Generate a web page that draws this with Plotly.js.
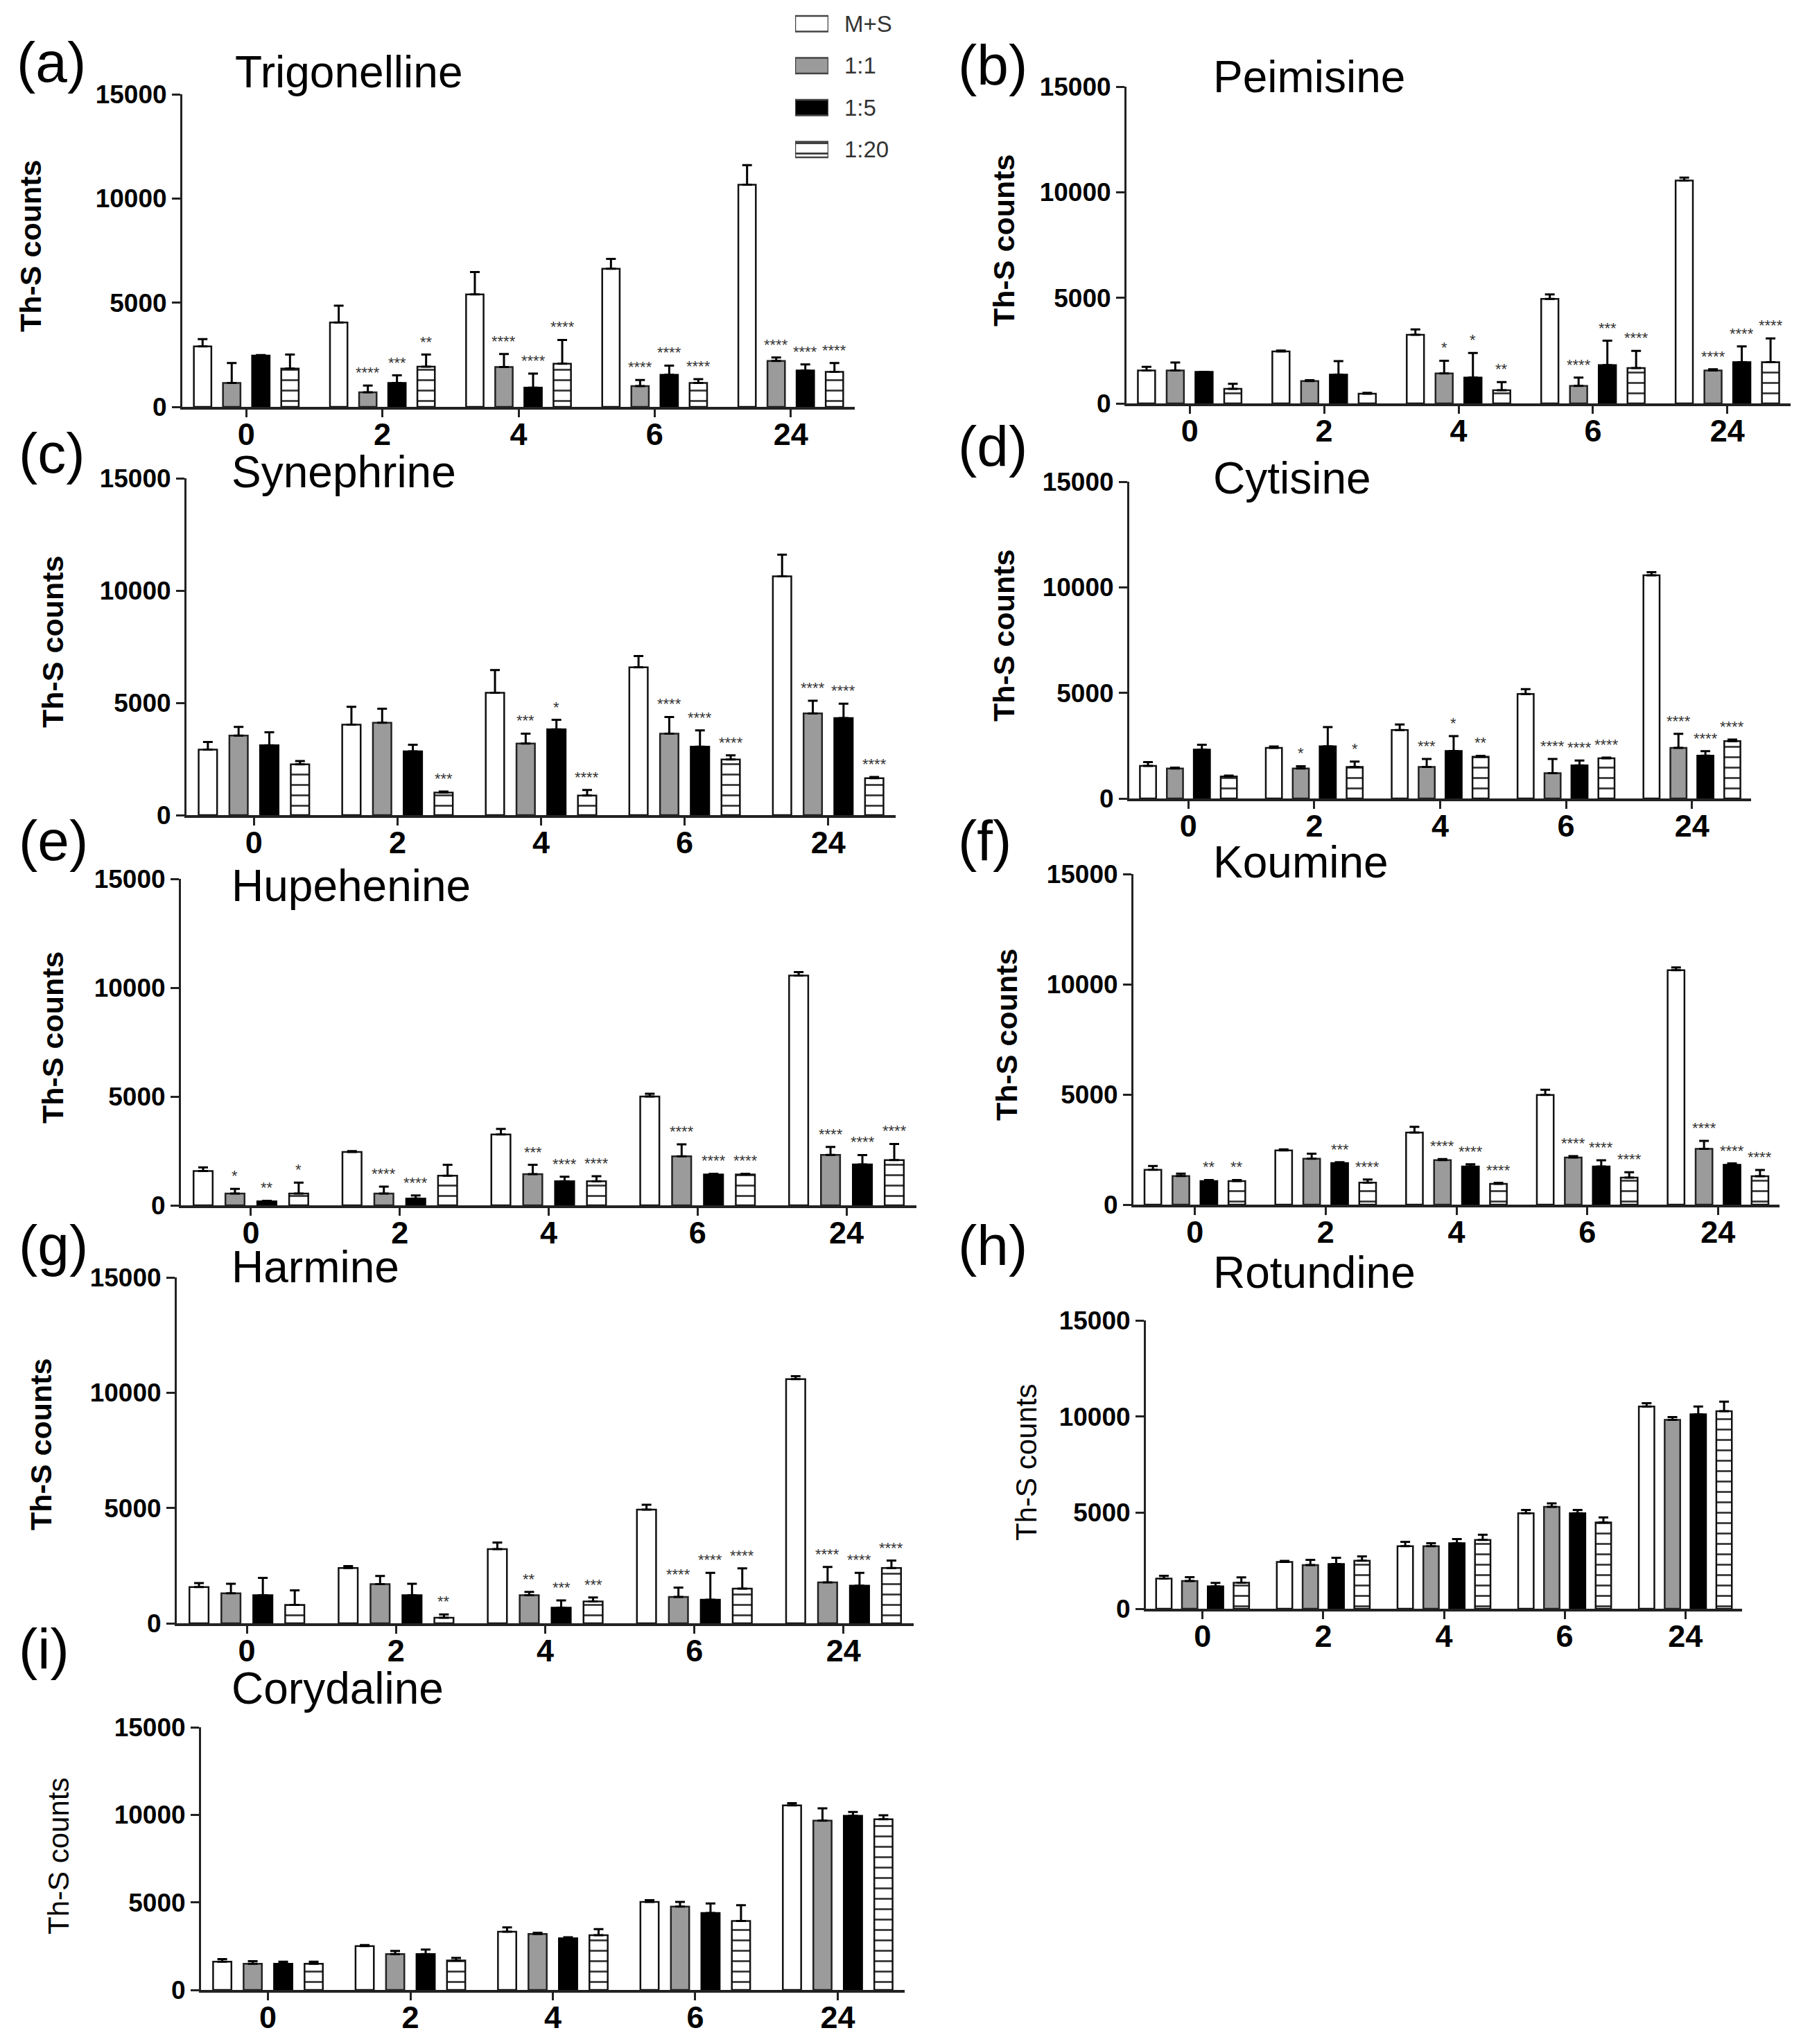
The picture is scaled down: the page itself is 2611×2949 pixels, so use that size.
<!DOCTYPE html>
<html lang="en">
<head>
    <meta charset="UTF-8">
    <title>Th-S counts</title>
    <script src="https://cdn.plot.ly/plotly-3.0.1.min.js"></script>
    <style>
        body { margin: 0; background: #fff; }
    </style>
</head>
<body>
<div id="plot"></div>
<script>

    const hours = ["0", "2", "4", "6", "24"]
    const series = ["M+S", "1:1", "1:5", "1:20"]

    // rows: M+S, 1:1, 1:5, 1:20
    const trigonellineMean = [[2900, 4050, 5400, 6630, 10660], [1150, 700, 1910, 1000, 2200], [2460, 1150, 920, 1540, 1750], [1840, 1930, 2070, 1150, 1680]]
    const trigonellineErr = [[350, 810, 1070, 470, 940], [950, 320, 630, 290, 170], [30, 360, 680, 440, 290], [670, 580, 1140, 180, 420]]
    const trigonellineStars = [["", "****", "****", "****", "****"], ["", "***", "****", "****", "****"], ["", "**", "****", "****", "****"]]

    const peimisineMean = [[1560, 2460, 3250, 4950, 10550], [1560, 1060, 1420, 830, 1560], [1490, 1360, 1220, 1810, 1950], [690, 460, 620, 1670, 1950]]
    const peimisineErr = [[170, 40, 250, 210, 140], [380, 40, 600, 390, 60], [0, 640, 1170, 1160, 750], [240, 40, 390, 820, 1130]]
    const peimisineStars = [["", "", "*", "****", "****"], ["", "", "*", "***", "****"], ["", "", "**", "****", "****"]]

    const synephrineMean = [[2920, 4030, 5450, 6580, 10630], [3540, 4110, 3190, 3630, 4530], [3110, 2840, 3820, 3050, 4320], [2260, 1000, 870, 2480, 1640]]
    const synephrineErr = [[340, 790, 1010, 500, 970], [390, 630, 440, 740, 560], [580, 290, 420, 720, 640], [150, 50, 250, 180, 60]]
    const synephrineStars = [["", "", "***", "****", "****"], ["", "", "*", "****", "****"], ["", "***", "****", "****", "****"]]

    const cytisineMean = [[1540, 2400, 3240, 4950, 10570], [1420, 1420, 1490, 1200, 2400], [2310, 2470, 2250, 1570, 2030], [1040, 1490, 1980, 1900, 2720]]
    const cytisineErr = [[180, 60, 260, 230, 150], [40, 110, 380, 670, 660], [230, 910, 700, 230, 210], [40, 260, 40, 40, 70]]
    const cytisineStars = [["", "*", "***", "****", "****"], ["", "", "*", "****", "****"], ["", "*", "**", "****", "****"]]

    const hupehenineMean = [[1580, 2450, 3260, 5000, 10560], [540, 540, 1430, 2250, 2320], [180, 310, 1110, 1420, 1880], [540, 1360, 1110, 1420, 2080]]
    const hupehenineErr = [[160, 40, 250, 130, 160], [220, 320, 430, 550, 360], [30, 140, 200, 30, 430], [500, 500, 230, 30, 740]]
    const hupehenineStars = [["*", "****", "***", "****", "****"], ["**", "****", "****", "****", "****"], ["*", "", "****", "****", "****"]]

    const koumineMean = [[1580, 2460, 3270, 4980, 10640], [1300, 2080, 2020, 2140, 2530], [1070, 1890, 1730, 1730, 1810], [1070, 1000, 940, 1230, 1290]]
    const koumineErr = [[170, 50, 260, 230, 120], [110, 230, 50, 60, 360], [50, 40, 100, 280, 60], [50, 140, 50, 240, 280]]
    const koumineStars = [["", "", "****", "****", "****"], ["**", "***", "****", "****", "****"], ["**", "****", "****", "****", "****"]]

    const harmineMean = [[1570, 2400, 3220, 4930, 10590], [1300, 1700, 1220, 1140, 1770], [1220, 1220, 680, 1020, 1630], [800, 240, 950, 1500, 2400]]
    const harmineErr = [[170, 80, 280, 210, 130], [410, 350, 140, 410, 670], [750, 490, 310, 1170, 560], [630, 140, 170, 880, 320]]
    const harmineStars = [["", "", "**", "****", "****"], ["", "", "***", "****", "****"], ["", "**", "***", "****", "****"]]

    const rotundineMean = [[1570, 2430, 3250, 4970, 10520], [1440, 2270, 3250, 5300, 9830], [1160, 2330, 3410, 4970, 10110], [1350, 2500, 3580, 4490, 10280]]
    const rotundineErr = [[140, 60, 230, 170, 170], [200, 270, 160, 180, 140], [180, 320, 210, 170, 410], [280, 220, 270, 260, 490]]

    const corydalineMean = [[1610, 2500, 3320, 5030, 10540], [1490, 2050, 3200, 4760, 9670], [1490, 2050, 2950, 4390, 9940], [1490, 1680, 3130, 3940, 9750]]
    const corydalineErr = [[150, 60, 250, 100, 130], [150, 180, 70, 270, 700], [120, 260, 60, 550, 220], [120, 150, 340, 900, 220]]

    const W = 2611, H = 2949
    const px = v => v / W
    const py = v => 1 - v / H

    const FONT = "Liberation Sans, Arial, sans-serif"
    const bargap = 0.144
    const slot = (1 - bargap) / 4

    const markers = [
        {color: "#ffffff", line: {color: "#111", width: 2.5}},
        {color: "#9b9b9b", line: {color: "#222", width: 2.5}},
        {color: "#000000", line: {color: "#000", width: 2.5}},
        {color: "#ffffff", line: {color: "#111", width: 2.5},
         pattern: {shape: "-", size: 15, solidity: 0.18, fgcolor: "#333", bgcolor: "#ffffff", fillmode: "replace"}}
    ]

    // panel layout, in pixels of the 2611x2949 figure
    const panels = [
        {title: "Trigonelline", letter: "(a)", mean: trigonellineMean, err: trigonellineErr, stars: trigonellineStars,
         xd: [263, 1233], yd: [136, 587], titleAt: [337, 126], letterAt: [22, 90], yTitleAt: [44, 355], bold: true},
        {title: "Peimisine", letter: "(b)", mean: peimisineMean, err: peimisineErr, stars: peimisineStars,
         xd: [1625, 2583], yd: [125, 582], titleAt: [1748, 133], letterAt: [1380, 94], yTitleAt: [1448, 347], bold: true},
        {title: "Synephrine", letter: "(c)", mean: synephrineMean, err: synephrineErr, stars: synephrineStars,
         xd: [269, 1292], yd: [690, 1176], titleAt: [332, 703], letterAt: [25, 654], yTitleAt: [76, 926], bold: true},
        {title: "Cytisine", letter: "(d)", mean: cytisineMean, err: cytisineErr, stars: cytisineStars,
         xd: [1629, 2526], yd: [695, 1152], titleAt: [1748, 712], letterAt: [1380, 644], yTitleAt: [1448, 917], bold: true},
        {title: "Hupehenine", letter: "(e)", mean: hupehenineMean, err: hupehenineErr, stars: hupehenineStars,
         xd: [261, 1322], yd: [1268, 1739], titleAt: [332, 1300], letterAt: [25, 1212], yTitleAt: [76, 1497], bold: true},
        {title: "Koumine", letter: "(f)", mean: koumineMean, err: koumineErr, stars: koumineStars,
         xd: [1635, 2567], yd: [1261, 1738], titleAt: [1748, 1266], letterAt: [1380, 1212], yTitleAt: [1452, 1493], bold: true},
        {title: "Harmine", letter: "(g)", mean: harmineMean, err: harmineErr, stars: harmineStars,
         xd: [255, 1318], yd: [1843, 2342], titleAt: [332, 1850], letterAt: [25, 1796], yTitleAt: [59, 2084], bold: true},
        {title: "Rotundine", letter: "(h)", mean: rotundineMean, err: rotundineErr, stars: null,
         xd: [1653, 2513], yd: [1905, 2321], titleAt: [1748, 1858], letterAt: [1380, 1796], yTitleAt: [1480, 2110], bold: false},
        {title: "Corydaline", letter: "(i)", mean: corydalineMean, err: corydalineErr, stars: null,
         xd: [290, 1305], yd: [2492, 2871], titleAt: [332, 2458], letterAt: [25, 2378], yTitleAt: [84, 2678], bold: false}
    ]

    const data = []
    const layout = {
        width: W, height: H,
        margin: {l: 0, r: 0, t: 0, b: 0},
        paper_bgcolor: "#fff", plot_bgcolor: "#fff",
        barmode: "group", bargap: bargap, bargroupgap: 0.4,
        showlegend: false,
        font: {family: FONT, color: "#000"},
        annotations: []
    }

    const xs = hours.map((h, i) => i)

    panels.forEach((p, k) => {
        const n = k === 0 ? "" : String(k + 1)
        series.forEach((s, j) => {
            data.push({
                type: "bar", name: s, x: xs, y: p.mean[j],
                xaxis: "x" + n, yaxis: "y" + n,
                marker: markers[j],
                error_y: {type: "data", symmetric: false, array: p.err[j], arrayminus: p.err[j].map(() => 0),
                          color: "#000", thickness: 3, width: 7},
                hoverinfo: "skip"
            })
        })

        layout["xaxis" + n] = {
            domain: [px(p.xd[0]), px(p.xd[1])], anchor: "y" + n,
            range: [-0.47, 4.47], tickvals: xs, ticktext: hours,
            showline: true, linecolor: "#222", linewidth: 3.5,
            ticks: "outside", ticklen: 11, tickwidth: 3, tickcolor: "#222",
            ticklabelstandoff: -14,
            tickfont: {size: 45, weight: "bold", family: FONT},
            showgrid: false, zeroline: false, fixedrange: true
        }
        layout["yaxis" + n] = {
            domain: [py(p.yd[1]), py(p.yd[0])], anchor: "x" + n,
            range: [0, 15000], tickvals: [0, 5000, 10000, 15000], tickformat: "d",
            showline: true, linecolor: "#222", linewidth: 3,
            ticks: "outside", ticklen: 12, tickwidth: 3, tickcolor: "#222",
            tickfont: {size: 37, weight: "bold", family: FONT},
            showgrid: false, zeroline: false, fixedrange: true
        }

        layout.annotations.push({
            text: p.title, xref: "paper", yref: "paper", showarrow: false,
            x: px(p.titleAt[0]), y: py(p.titleAt[1] - 22), xanchor: "left", yanchor: "middle",
            font: {size: 64, family: FONT, color: "#000"}
        })
        layout.annotations.push({
            text: p.letter, xref: "paper", yref: "paper", showarrow: false,
            x: px(p.letterAt[0]), y: py(p.letterAt[1]), xanchor: "left", yanchor: "middle",
            font: {size: 82, family: FONT, color: "#000"}
        })
        layout.annotations.push({
            text: "Th-S counts", xref: "paper", yref: "paper", showarrow: false, textangle: -90,
            x: px(p.yTitleAt[0]), y: py(p.yTitleAt[1]), xanchor: "center", yanchor: "middle",
            font: {size: p.bold ? 43 : 42, weight: p.bold ? "bold" : "normal", family: FONT, color: "#000"}
        })

        if (p.stars) {
            p.stars.forEach((row, r) => {
                const j = r + 1
                row.forEach((st, i) => {
                    if (!st) return
                    layout.annotations.push({
                        text: st, xref: "x" + n, yref: "y" + n, showarrow: false,
                        x: i + (j - 1.5) * slot, y: p.mean[j][i] + p.err[j][i],
                        xanchor: "center", yanchor: "bottom", yshift: 4,
                        font: {size: 22, family: FONT, color: "#333"}
                    })
                })
            })
        }
    })

    // legend drawn as a tiny bar subplot so the swatches carry the real bar styles
    series.forEach((s, j) => {
        data.push({
            type: "bar", orientation: "h", name: s, y: [s], x: [1], base: 0,
            width: 0.37, offset: -0.185,
            xaxis: "x10", yaxis: "y10",
            marker: Object.assign({}, markers[j], {line: {color: "#444", width: 2.5}}),
            hoverinfo: "skip"
        })
    })
    layout.xaxis10 = {domain: [px(1147), px(1195)], anchor: "y10", range: [0, 1], visible: false, fixedrange: true}
    layout.yaxis10 = {
        domain: [py(246), py(4)], anchor: "x10", side: "right",
        categoryorder: "array", categoryarray: series, autorange: "reversed",
        showline: false, ticks: "", showgrid: false, zeroline: false,
        ticklabelstandoff: 22,
        tickfont: {size: 33, family: FONT, color: "#333"}, fixedrange: true
    }

    Plotly.newPlot("plot", data, layout, {staticPlot: true})

</script>
</body>
</html>
